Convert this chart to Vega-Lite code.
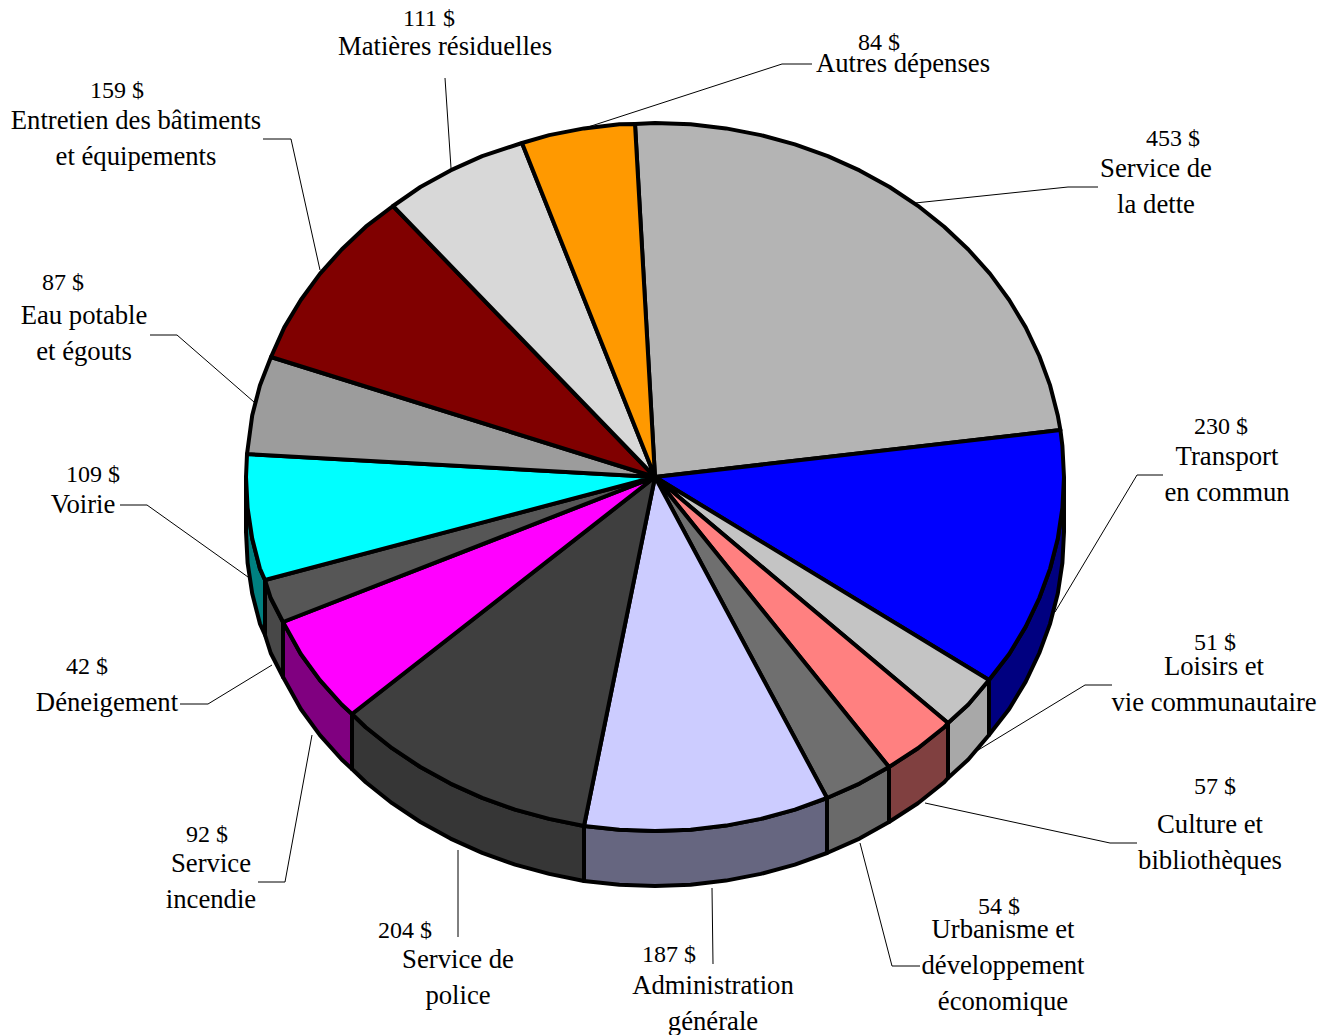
{"$schema":"https://vega.github.io/schema/vega-lite/v6.json","width":1329,"height":1035,"padding":0,"autosize":"none","background":"white","view":{"stroke":null},
"datasets":{
"faces":[
{"part":"Transport côté","i":0,"x":1064,"y":477},{"part":"Transport côté","i":1,"x":1062.4,"y":507.9},{"part":"Transport côté","i":2,"x":1057.8,"y":538.5},{"part":"Transport côté","i":3,"x":1050.1,"y":568.6},{"part":"Transport côté","i":4,"x":1039.3,"y":598},{"part":"Transport côté","i":5,"x":1025.7,"y":626.6},{"part":"Transport côté","i":6,"x":1009.2,"y":654},{"part":"Transport côté","i":7,"x":989,"y":680},{"part":"Transport côté","i":8,"x":989,"y":735},{"part":"Transport côté","i":9,"x":1009.2,"y":709},{"part":"Transport côté","i":10,"x":1025.7,"y":681.6},{"part":"Transport côté","i":11,"x":1039.3,"y":653},{"part":"Transport côté","i":12,"x":1050.1,"y":623.6},{"part":"Transport côté","i":13,"x":1057.8,"y":593.5},{"part":"Transport côté","i":14,"x":1062.4,"y":562.9},{"part":"Transport côté","i":15,"x":1064,"y":532},{"part":"Transport côté","i":16,"x":1064,"y":477},
{"part":"Loisirs côté","i":0,"x":989,"y":680},{"part":"Loisirs côté","i":1,"x":968.3,"y":704.5},{"part":"Loisirs côté","i":2,"x":948,"y":723},{"part":"Loisirs côté","i":3,"x":948,"y":778},{"part":"Loisirs côté","i":4,"x":968.3,"y":759.5},{"part":"Loisirs côté","i":5,"x":989,"y":735},{"part":"Loisirs côté","i":6,"x":989,"y":680},
{"part":"Culture côté","i":0,"x":948,"y":723},{"part":"Culture côté","i":1,"x":944.2,"y":727.3},{"part":"Culture côté","i":2,"x":917.9,"y":748.2},{"part":"Culture côté","i":3,"x":889,"y":767},{"part":"Culture côté","i":4,"x":889,"y":822},{"part":"Culture côté","i":5,"x":917.9,"y":803.2},{"part":"Culture côté","i":6,"x":944.2,"y":782.3},{"part":"Culture côté","i":7,"x":948,"y":778},{"part":"Culture côté","i":8,"x":948,"y":723},
{"part":"Urbanisme côté","i":0,"x":889,"y":767},{"part":"Urbanisme côté","i":1,"x":859.5,"y":783.6},{"part":"Urbanisme côté","i":2,"x":827,"y":798},{"part":"Urbanisme côté","i":3,"x":827,"y":853},{"part":"Urbanisme côté","i":4,"x":859.5,"y":838.6},{"part":"Urbanisme côté","i":5,"x":889,"y":822},{"part":"Urbanisme côté","i":6,"x":889,"y":767},
{"part":"Administration côté","i":0,"x":827,"y":798},{"part":"Administration côté","i":1,"x":794.9,"y":809.6},{"part":"Administration côté","i":2,"x":760.8,"y":818.9},{"part":"Administration côté","i":3,"x":726,"y":825.6},{"part":"Administration côté","i":4,"x":690.6,"y":829.7},{"part":"Administration côté","i":5,"x":655,"y":831},{"part":"Administration côté","i":6,"x":619.4,"y":829.7},{"part":"Administration côté","i":7,"x":584,"y":826},{"part":"Administration côté","i":8,"x":584,"y":881},{"part":"Administration côté","i":9,"x":619.4,"y":884.7},{"part":"Administration côté","i":10,"x":655,"y":886},{"part":"Administration côté","i":11,"x":690.6,"y":884.7},{"part":"Administration côté","i":12,"x":726,"y":880.6},{"part":"Administration côté","i":13,"x":760.8,"y":873.9},{"part":"Administration côté","i":14,"x":794.9,"y":864.6},{"part":"Administration côté","i":15,"x":827,"y":853},{"part":"Administration côté","i":16,"x":827,"y":798},
{"part":"Police côté","i":0,"x":584,"y":826},{"part":"Police côté","i":1,"x":549.2,"y":818.9},{"part":"Police côté","i":2,"x":515.1,"y":809.6},{"part":"Police côté","i":3,"x":482.2,"y":797.8},{"part":"Police côté","i":4,"x":450.5,"y":783.6},{"part":"Police côté","i":5,"x":420.4,"y":767},{"part":"Police côté","i":6,"x":392.1,"y":748.2},{"part":"Police côté","i":7,"x":365.8,"y":727.3},{"part":"Police côté","i":8,"x":352,"y":714},{"part":"Police côté","i":9,"x":352,"y":769},{"part":"Police côté","i":10,"x":365.8,"y":782.3},{"part":"Police côté","i":11,"x":392.1,"y":803.2},{"part":"Police côté","i":12,"x":420.4,"y":822},{"part":"Police côté","i":13,"x":450.5,"y":838.6},{"part":"Police côté","i":14,"x":482.2,"y":852.8},{"part":"Police côté","i":15,"x":515.1,"y":864.6},{"part":"Police côté","i":16,"x":549.2,"y":873.9},{"part":"Police côté","i":17,"x":584,"y":881},{"part":"Police côté","i":18,"x":584,"y":826},
{"part":"Incendie côté","i":0,"x":352,"y":714},{"part":"Incendie côté","i":1,"x":341.7,"y":704.5},{"part":"Incendie côté","i":2,"x":319.9,"y":680.1},{"part":"Incendie côté","i":3,"x":300.8,"y":654},{"part":"Incendie côté","i":4,"x":283,"y":622},{"part":"Incendie côté","i":5,"x":283,"y":677},{"part":"Incendie côté","i":6,"x":300.8,"y":709},{"part":"Incendie côté","i":7,"x":319.9,"y":735.1},{"part":"Incendie côté","i":8,"x":341.7,"y":759.5},{"part":"Incendie côté","i":9,"x":352,"y":769},{"part":"Incendie côté","i":10,"x":352,"y":714},
{"part":"Déneigement côté","i":0,"x":283,"y":622},{"part":"Déneigement côté","i":1,"x":270.7,"y":598},{"part":"Déneigement côté","i":2,"x":265,"y":580},{"part":"Déneigement côté","i":3,"x":265,"y":635},{"part":"Déneigement côté","i":4,"x":270.7,"y":653},{"part":"Déneigement côté","i":5,"x":283,"y":677},{"part":"Déneigement côté","i":6,"x":283,"y":622},
{"part":"Voirie côté","i":0,"x":265,"y":580},{"part":"Voirie côté","i":1,"x":259.9,"y":568.6},{"part":"Voirie côté","i":2,"x":252.2,"y":538.5},{"part":"Voirie côté","i":3,"x":247.6,"y":507.9},{"part":"Voirie côté","i":4,"x":246,"y":477},{"part":"Voirie côté","i":5,"x":246,"y":532},{"part":"Voirie côté","i":6,"x":247.6,"y":562.9},{"part":"Voirie côté","i":7,"x":252.2,"y":593.5},{"part":"Voirie côté","i":8,"x":259.9,"y":623.6},{"part":"Voirie côté","i":9,"x":265,"y":635},{"part":"Voirie côté","i":10,"x":265,"y":580},

{"part":"Service de la dette","i":0,"x":655,"y":477},{"part":"Service de la dette","i":1,"x":635,"y":124},{"part":"Service de la dette","i":2,"x":655,"y":123},{"part":"Service de la dette","i":3,"x":690.6,"y":124.3},{"part":"Service de la dette","i":4,"x":726,"y":128.4},{"part":"Service de la dette","i":5,"x":760.8,"y":135.1},{"part":"Service de la dette","i":6,"x":794.9,"y":144.4},{"part":"Service de la dette","i":7,"x":827.8,"y":156.2},{"part":"Service de la dette","i":8,"x":859.5,"y":170.4},{"part":"Service de la dette","i":9,"x":889.6,"y":187},{"part":"Service de la dette","i":10,"x":917.9,"y":205.8},{"part":"Service de la dette","i":11,"x":944.2,"y":226.7},{"part":"Service de la dette","i":12,"x":968.3,"y":249.5},{"part":"Service de la dette","i":13,"x":990.1,"y":273.9},{"part":"Service de la dette","i":14,"x":1009.2,"y":300},{"part":"Service de la dette","i":15,"x":1025.7,"y":327.4},{"part":"Service de la dette","i":16,"x":1039.3,"y":356},{"part":"Service de la dette","i":17,"x":1050.1,"y":385.4},{"part":"Service de la dette","i":18,"x":1057.8,"y":415.5},{"part":"Service de la dette","i":19,"x":1060.4,"y":430},{"part":"Service de la dette","i":20,"x":655,"y":477},
{"part":"Transport","i":0,"x":655,"y":477},{"part":"Transport","i":1,"x":1060.4,"y":430},{"part":"Transport","i":2,"x":1062.4,"y":446.1},{"part":"Transport","i":3,"x":1064,"y":477},{"part":"Transport","i":4,"x":1062.4,"y":507.9},{"part":"Transport","i":5,"x":1057.8,"y":538.5},{"part":"Transport","i":6,"x":1050.1,"y":568.6},{"part":"Transport","i":7,"x":1039.3,"y":598},{"part":"Transport","i":8,"x":1025.7,"y":626.6},{"part":"Transport","i":9,"x":1009.2,"y":654},{"part":"Transport","i":10,"x":989,"y":680},{"part":"Transport","i":11,"x":655,"y":477},
{"part":"Loisirs","i":0,"x":655,"y":477},{"part":"Loisirs","i":1,"x":989,"y":680},{"part":"Loisirs","i":2,"x":968.3,"y":704.5},{"part":"Loisirs","i":3,"x":948,"y":723},{"part":"Loisirs","i":4,"x":655,"y":477},
{"part":"Culture","i":0,"x":655,"y":477},{"part":"Culture","i":1,"x":948,"y":723},{"part":"Culture","i":2,"x":944.2,"y":727.3},{"part":"Culture","i":3,"x":917.9,"y":748.2},{"part":"Culture","i":4,"x":889,"y":767},{"part":"Culture","i":5,"x":655,"y":477},
{"part":"Urbanisme","i":0,"x":655,"y":477},{"part":"Urbanisme","i":1,"x":889,"y":767},{"part":"Urbanisme","i":2,"x":859.5,"y":783.6},{"part":"Urbanisme","i":3,"x":827,"y":798},{"part":"Urbanisme","i":4,"x":655,"y":477},
{"part":"Administration","i":0,"x":655,"y":477},{"part":"Administration","i":1,"x":827,"y":798},{"part":"Administration","i":2,"x":794.9,"y":809.6},{"part":"Administration","i":3,"x":760.8,"y":818.9},{"part":"Administration","i":4,"x":726,"y":825.6},{"part":"Administration","i":5,"x":690.6,"y":829.7},{"part":"Administration","i":6,"x":655,"y":831},{"part":"Administration","i":7,"x":619.4,"y":829.7},{"part":"Administration","i":8,"x":584,"y":826},{"part":"Administration","i":9,"x":655,"y":477},
{"part":"Police","i":0,"x":655,"y":477},{"part":"Police","i":1,"x":584,"y":826},{"part":"Police","i":2,"x":549.2,"y":818.9},{"part":"Police","i":3,"x":515.1,"y":809.6},{"part":"Police","i":4,"x":482.2,"y":797.8},{"part":"Police","i":5,"x":450.5,"y":783.6},{"part":"Police","i":6,"x":420.4,"y":767},{"part":"Police","i":7,"x":392.1,"y":748.2},{"part":"Police","i":8,"x":365.8,"y":727.3},{"part":"Police","i":9,"x":352,"y":714},{"part":"Police","i":10,"x":655,"y":477},
{"part":"Incendie","i":0,"x":655,"y":477},{"part":"Incendie","i":1,"x":352,"y":714},{"part":"Incendie","i":2,"x":341.7,"y":704.5},{"part":"Incendie","i":3,"x":319.9,"y":680.1},{"part":"Incendie","i":4,"x":300.8,"y":654},{"part":"Incendie","i":5,"x":283,"y":622},{"part":"Incendie","i":6,"x":655,"y":477},
{"part":"Déneigement","i":0,"x":655,"y":477},{"part":"Déneigement","i":1,"x":283,"y":622},{"part":"Déneigement","i":2,"x":270.7,"y":598},{"part":"Déneigement","i":3,"x":265,"y":580},{"part":"Déneigement","i":4,"x":655,"y":477},
{"part":"Voirie","i":0,"x":655,"y":477},{"part":"Voirie","i":1,"x":265,"y":580},{"part":"Voirie","i":2,"x":259.9,"y":568.6},{"part":"Voirie","i":3,"x":252.2,"y":538.5},{"part":"Voirie","i":4,"x":247.6,"y":507.9},{"part":"Voirie","i":5,"x":246,"y":477},{"part":"Voirie","i":6,"x":247,"y":454},{"part":"Voirie","i":7,"x":655,"y":477},
{"part":"Eau potable","i":0,"x":655,"y":477},{"part":"Eau potable","i":1,"x":247,"y":454},{"part":"Eau potable","i":2,"x":252.2,"y":415.5},{"part":"Eau potable","i":3,"x":259.9,"y":385.4},{"part":"Eau potable","i":4,"x":271,"y":357},{"part":"Eau potable","i":5,"x":655,"y":477},
{"part":"Entretien","i":0,"x":655,"y":477},{"part":"Entretien","i":1,"x":271,"y":357},{"part":"Entretien","i":2,"x":284.3,"y":327.4},{"part":"Entretien","i":3,"x":300.8,"y":300},{"part":"Entretien","i":4,"x":319.9,"y":273.9},{"part":"Entretien","i":5,"x":341.7,"y":249.5},{"part":"Entretien","i":6,"x":365.8,"y":226.7},{"part":"Entretien","i":7,"x":393,"y":206},{"part":"Entretien","i":8,"x":655,"y":477},
{"part":"Matières","i":0,"x":655,"y":477},{"part":"Matières","i":1,"x":393,"y":206},{"part":"Matières","i":2,"x":420.4,"y":187},{"part":"Matières","i":3,"x":450.5,"y":170.4},{"part":"Matières","i":4,"x":482.2,"y":156.2},{"part":"Matières","i":5,"x":522,"y":143},{"part":"Matières","i":6,"x":655,"y":477},
{"part":"Autres","i":0,"x":655,"y":477},{"part":"Autres","i":1,"x":522,"y":143},{"part":"Autres","i":2,"x":549.2,"y":135.1},{"part":"Autres","i":3,"x":584,"y":128.4},{"part":"Autres","i":4,"x":619.4,"y":124.3},{"part":"Autres","i":5,"x":635,"y":124},{"part":"Autres","i":6,"x":655,"y":477}
],
"leaders":[
{"k":"Autres","i":0,"x":585,"y":128},{"k":"Autres","i":1,"x":782,"y":64},{"k":"Autres","i":2,"x":812,"y":64},
{"k":"Dette","i":0,"x":915,"y":203},{"k":"Dette","i":1,"x":1068,"y":187},{"k":"Dette","i":2,"x":1098,"y":187},
{"k":"Transport","i":0,"x":1055,"y":612},{"k":"Transport","i":1,"x":1137,"y":475},{"k":"Transport","i":2,"x":1163,"y":475},
{"k":"Loisirs","i":0,"x":975,"y":752},{"k":"Loisirs","i":1,"x":1085,"y":685},{"k":"Loisirs","i":2,"x":1112,"y":685},
{"k":"Culture","i":0,"x":925,"y":803},{"k":"Culture","i":1,"x":1110,"y":843},{"k":"Culture","i":2,"x":1137,"y":843},
{"k":"Urbanisme","i":0,"x":860,"y":843},{"k":"Urbanisme","i":1,"x":892,"y":966},{"k":"Urbanisme","i":2,"x":920,"y":966},
{"k":"Administration","i":0,"x":712,"y":888},{"k":"Administration","i":1,"x":713,"y":964},
{"k":"Police","i":0,"x":458,"y":850},{"k":"Police","i":1,"x":458,"y":937},
{"k":"Incendie","i":0,"x":312,"y":735},{"k":"Incendie","i":1,"x":285,"y":882},{"k":"Incendie","i":2,"x":258,"y":882},
{"k":"Déneigement","i":0,"x":272,"y":665},{"k":"Déneigement","i":1,"x":208,"y":704},{"k":"Déneigement","i":2,"x":180,"y":704},
{"k":"Voirie","i":0,"x":248,"y":577},{"k":"Voirie","i":1,"x":147,"y":505},{"k":"Voirie","i":2,"x":120,"y":505},
{"k":"Eau","i":0,"x":254,"y":402},{"k":"Eau","i":1,"x":177,"y":335},{"k":"Eau","i":2,"x":150,"y":335},
{"k":"Entretien","i":0,"x":320,"y":270},{"k":"Entretien","i":1,"x":291,"y":139},{"k":"Entretien","i":2,"x":263,"y":139},
{"k":"Matières","i":0,"x":451,"y":168},{"k":"Matières","i":1,"x":445,"y":78}
],
"labels":[
{"t":"84 $","x":879,"y":43,"kind":"value"},{"t":"Autres dépenses","x":903,"y":64,"kind":"name"},
{"t":"453 $","x":1173,"y":139,"kind":"value"},{"t":"Service de","x":1156,"y":169,"kind":"name"},{"t":"la dette","x":1156,"y":205,"kind":"name"},
{"t":"230 $","x":1221,"y":427,"kind":"value"},{"t":"Transport","x":1227,"y":457,"kind":"name"},{"t":"en commun","x":1227,"y":493,"kind":"name"},
{"t":"51 $","x":1215,"y":643,"kind":"value"},{"t":"Loisirs et","x":1214,"y":667,"kind":"name"},{"t":"vie communautaire","x":1214,"y":703,"kind":"name"},
{"t":"57 $","x":1215,"y":787,"kind":"value"},{"t":"Culture et","x":1210,"y":825,"kind":"name"},{"t":"bibliothèques","x":1210,"y":861,"kind":"name"},
{"t":"54 $","x":999,"y":907,"kind":"value"},{"t":"Urbanisme et","x":1003,"y":930,"kind":"name"},{"t":"développement","x":1003,"y":966,"kind":"name"},{"t":"économique","x":1003,"y":1002,"kind":"name"},
{"t":"187 $","x":669,"y":955,"kind":"value"},{"t":"Administration","x":713,"y":986,"kind":"name"},{"t":"générale","x":713,"y":1022,"kind":"name"},
{"t":"204 $","x":405,"y":931,"kind":"value"},{"t":"Service de","x":458,"y":960,"kind":"name"},{"t":"police","x":458,"y":996,"kind":"name"},
{"t":"92 $","x":207,"y":835,"kind":"value"},{"t":"Service","x":211,"y":864,"kind":"name"},{"t":"incendie","x":211,"y":900,"kind":"name"},
{"t":"42 $","x":87,"y":667,"kind":"value"},{"t":"Déneigement","x":107,"y":703,"kind":"name"},
{"t":"109 $","x":93,"y":475,"kind":"value"},{"t":"Voirie","x":83,"y":505,"kind":"name"},
{"t":"87 $","x":63,"y":283,"kind":"value"},{"t":"Eau potable","x":84,"y":316,"kind":"name"},{"t":"et égouts","x":84,"y":352,"kind":"name"},
{"t":"159 $","x":117,"y":91,"kind":"value"},{"t":"Entretien des bâtiments","x":136,"y":121,"kind":"name"},{"t":"et équipements","x":136,"y":157,"kind":"name"},
{"t":"111 $","x":429,"y":19,"kind":"value"},{"t":"Matières résiduelles","x":445,"y":47,"kind":"name"}
]},
"layer":[
{"data":{"name":"leaders"},"mark":{"type":"line","stroke":"black","strokeWidth":1,"clip":false},
"encoding":{"x":{"field":"x","type":"quantitative","scale":{"domain":[0,1329],"nice":false,"zero":false},"axis":null},"y":{"field":"y","type":"quantitative","scale":{"domain":[1035,0],"nice":false,"zero":false},"axis":null},"detail":{"field":"k"},"order":{"field":"i"}}},
{"data":{"name":"faces"},"mark":{"type":"line","stroke":"black","strokeWidth":4,"strokeJoin":"round","clip":false},
"encoding":{"x":{"field":"x","type":"quantitative","axis":null},"y":{"field":"y","type":"quantitative","axis":null},"order":{"field":"i"},
"fill":{"field":"part","type":"nominal","legend":null,"scale":{
"domain":["Service de la dette","Transport","Transport côté","Loisirs","Loisirs côté","Culture","Culture côté","Urbanisme","Urbanisme côté","Administration","Administration côté","Police","Police côté","Incendie","Incendie côté","Déneigement","Déneigement côté","Voirie","Voirie côté","Eau potable","Entretien","Matières","Autres"],
"range":["#b4b4b4","#0000ff","#000080","#c4c4c4","#a8a8a8","#ff8080","#804040","#6f6f6f","#6a6a6a","#ccccff","#666680","#3f3f3f","#363636","#ff00ff","#800080","#565656","#484848","#00ffff","#008080","#9c9c9c","#800000","#d8d8d8","#ff9900"]}}}},
{"data":{"name":"labels"},"mark":{"type":"text","font":"Liberation Serif","baseline":"middle","align":"center","color":"black","clip":false},
"encoding":{"x":{"field":"x","type":"quantitative","axis":null},"y":{"field":"y","type":"quantitative","axis":null},"text":{"field":"t"},
"size":{"field":"kind","type":"nominal","legend":null,"scale":{"domain":["value","name"],"range":[24,26.7]}}}}
]}
